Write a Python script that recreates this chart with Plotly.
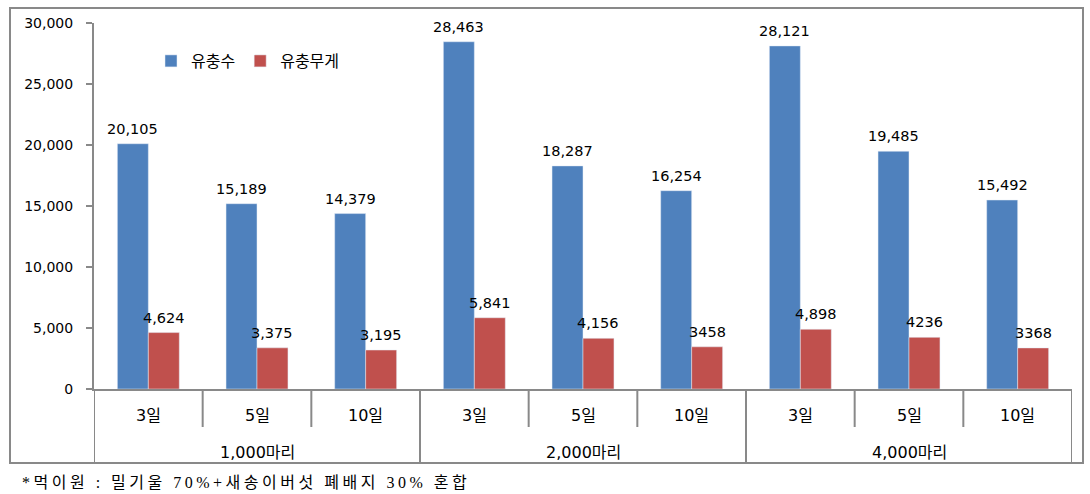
import plotly.graph_objects as go

# ---- data ----
groups = ["1,000마리", "2,000마리", "4,000마리"]
days = ["3일", "5일", "10일"]
larvae_count = [20105, 15189, 14379, 28463, 18287, 16254, 28121, 19485, 15492]
larvae_weight = [4624, 3375, 3195, 5841, 4156, 3458, 4898, 4236, 3368]
count_labels = ["20,105", "15,189", "14,379", "28,463", "18,287", "16,254", "28,121", "19,485", "15,492"]
weight_labels = ["4,624", "3,375", "3,195", "5,841", "4,156", "3458", "4,898", "4236", "3368"]
series_names = ["유충수", "유충무게"]
y_ticks = [0, 5000, 10000, 15000, 20000, 25000, 30000]
footnote = "*먹이원 : 밀기울 70%+새송이버섯 폐배지 30% 혼합"

# ---- layout geometry (pixels) ----
W, H = 1090, 494
L, R, T, B = 94, 18, 23, 105
PW, PH = W - L - R, H - T - B
GRAY = "#898989"
FONT = "DejaVu Sans, Noto Sans CJK KR"
BLUE, RED = "#4F81BD", "#C0504D"
BARGAP = 0.43


def pxx(p):
    return (p - L) / PW


def pxy(p):
    return (H - B - p) / PH


n = len(groups) * len(days)
x = list(range(n))
day_labels = [d for g in groups for d in days]

fig = go.Figure()
fig.add_trace(go.Bar(x=x, y=larvae_count, name=series_names[0], marker_color=BLUE))
fig.add_trace(go.Bar(x=x, y=larvae_weight, name=series_names[1], marker_color=RED))

shapes = []
# outer border
shapes.append(dict(type="rect", xref="paper", yref="paper", x0=pxx(10), x1=pxx(1083),
                   y0=pxy(463), y1=pxy(8), line=dict(color=GRAY, width=2), layer="below"))
# category separators
for b in range(n + 1):
    bottom = 463 if b % len(days) == 0 else 427
    shapes.append(dict(type="line", xref="x", yref="paper", x0=b - 0.5, x1=b - 0.5,
                       y0=0, y1=pxy(bottom), line=dict(color=GRAY, width=2)))

annotations = []
# value labels above bars
half = (1 - BARGAP) / 4
for vals, labs, off in ((larvae_count, count_labels, -half), (larvae_weight, weight_labels, half)):
    for i, (v, t) in enumerate(zip(vals, labs)):
        annotations.append(dict(x=i + off, y=v, xref="x", yref="y", text=t, showarrow=False,
                                yanchor="bottom", yshift=5,
                                font=dict(size=14.5, color="#000", family=FONT)))
for i, d in enumerate(day_labels):
    annotations.append(dict(x=i, y=pxy(415), xref="x", yref="paper", text=d, showarrow=False,
                            font=dict(size=16, color="#000", family=FONT), yanchor="middle"))
for gi, g in enumerate(groups):
    annotations.append(dict(x=gi * len(days) + (len(days) - 1) / 2, y=pxy(452), xref="x", yref="paper",
                            text=g, showarrow=False, font=dict(size=16, color="#000", family=FONT),
                            yanchor="middle"))
annotations.append(dict(x=pxx(20), y=pxy(482), xref="paper", yref="paper",
                        text="<span style='letter-spacing:3.5px'>" + footnote + "</span>",
                        showarrow=False, xanchor="left", yanchor="middle",
                        font=dict(size=16, color="#000", family="Liberation Serif, Noto Sans CJK KR")))

fig.update_layout(
    width=W, height=H,
    margin=dict(l=L, r=R, t=T, b=B),
    paper_bgcolor="white", plot_bgcolor="white",
    barmode="group", bargap=BARGAP, bargroupgap=0,
    showlegend=True,
    legend=dict(orientation="h", x=pxx(151), y=pxy(61), xanchor="left", yanchor="middle",
                font=dict(size=16, color="#000", family=FONT), bgcolor="rgba(0,0,0,0)"),
    shapes=shapes, annotations=annotations,
    font=dict(family=FONT, color="#000"),
)
fig.update_xaxes(range=[-0.5, n - 0.5], showticklabels=False, ticks="", showgrid=False,
                 zeroline=False, showline=True, linecolor=GRAY, linewidth=2)
fig.update_yaxes(range=[0, 30000], tickvals=y_ticks, tickformat=",d", showgrid=False,
                 zeroline=False, showline=True, linecolor=GRAY, linewidth=2,
                 ticks="outside", ticklen=6, tickwidth=2, tickcolor=GRAY,
                 ticklabelstandoff=10, tickfont=dict(size=14, color="#000", family=FONT))

fig.write_html("out.html")
